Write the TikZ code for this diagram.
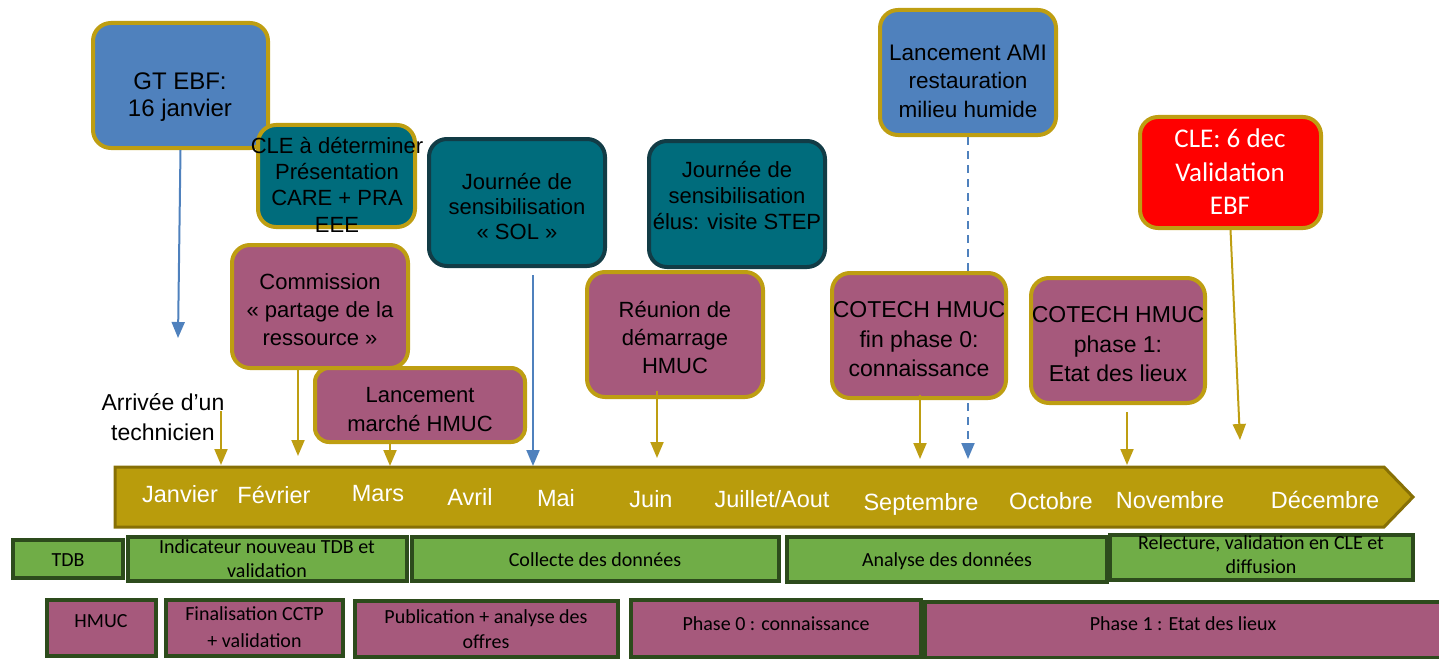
\documentclass[tikz,border=0pt]{standalone}
\usepackage{fontspec}
\setmainfont{Liberation Sans}
\newfontfamily\calib{Carlito}
\usetikzlibrary{arrows.meta,fit}
\definecolor{eblue}{RGB}{79,129,189}
\definecolor{egold}{RGB}{190,158,18}
\definecolor{tgold}{RGB}{185,156,12}
\definecolor{tgoldd}{RGB}{135,112,5}
\definecolor{eteal}{RGB}{0,108,124}
\definecolor{edteal}{RGB}{18,60,70}
\definecolor{emag}{RGB}{166,89,124}
\definecolor{egreen}{RGB}{112,173,71}
\definecolor{edgreen}{RGB}{45,75,28}
\definecolor{ered}{RGB}{255,0,0}
\newcommand\fs[2]{\fontsize{#1}{#2}\selectfont}
\begin{document}
\begin{tikzpicture}[x=1pt,y=-1pt,
 evbox/.style={draw=egold,line width=4pt,rounded corners=18pt,inner sep=0pt},
 tlbox/.style={draw=edteal,line width=4pt,rounded corners=18pt,fill=eteal,inner sep=0pt},
 bar/.style={draw=edgreen,line width=3.5pt,inner sep=0pt},
 evtxt/.style={align=center,font=\fs{22}{26.5},inner sep=0pt},
 mon/.style={anchor=base,text=white,font=\fs{23.5}{28},inner sep=0pt},
 bartxt/.style={align=center,font=\calib\fs{20}{24},inner sep=0pt},
 barbase/.style={anchor=base,font=\calib\fs{20}{24},inner sep=0pt},
 garrow/.style={draw=egold,line width=2pt,-{Triangle[width=13pt,length=16pt]}},
 barrow/.style={draw=eblue,line width=2pt,-{Triangle[width=13pt,length=16pt]}},
]
\useasboundingbox (0,0) rectangle (1439,658);

% timeline
\draw[fill=tgold,draw=tgoldd,line width=3pt] (115,467) -- (1384,467) -- (1413,497) -- (1384,527) -- (115,527) -- cycle;
\node[mon] (m1) at (180,502) {Janvier};
\node[mon] (m2) at (274,503) {Février};
\node[mon] (m3) at (378,501) {Mars};
\node[mon] (m4) at (470,505) {Avril};
\node[mon] (m5) at (556,506) {Mai};
\node[mon] (m6) at (651,507) {Juin};
\node[mon] (m7) at (772,507) {Juillet/Aout};
\node[mon] (m8) at (921,510) {Septembre};
\node[mon] (m9) at (1051,509) {Octobre};
\node[mon] (m10) at (1170,508) {Novembre};
\node[mon] (m11) at (1325,508) {Décembre};

% coordinates for arrow ends
\coordinate (tGT) at (178,338);
\coordinate (sA) at (221,411);
\coordinate (tA) at (221,465);
\coordinate (tB) at (298,456);
\coordinate (tC) at (390,466);
\coordinate (sD) at (533,275);
\coordinate (tD) at (533,466);
\coordinate (tE) at (657,458);
\coordinate (tF) at (920,459);
\coordinate (tG) at (968,459);
\coordinate (sI) at (1127,412);
\coordinate (tI) at (1127,465);
\coordinate (tJ) at (1240,440);

% top event boxes
\node[evbox,fill=eblue,fit={(93,23) (268,148)}] (gtebf) {};
\node[evtxt] (gtebft) at (180,97) {\fs{24}{29}GT EBF:\\\fs{24}{29}16 janvier};
\draw[barrow] (gtebf.south) -- (tGT);

\node[evbox,fill=eteal,fit={(258,125) (415,227)}] (cle) {};
\node[evtxt,font=\fs{22}{26.3}] (clet) at (337,184.5) {CLE à déterminer\\Présentation\\CARE + PRA\\EEE};

\node[tlbox,fit={(429,139) (605,266)}] (sol) {};
\node[evtxt,font=\fs{22}{25}] (solt) at (517,207) {Journée de\\sensibilisation\\« SOL »};
\node[tlbox,fit={(649,141) (825,267)}] (elus) {};
\node[evtxt,font=\fs{22}{26}] (elust) at (737,196) {Journée de\\sensibilisation\\élus: visite STEP};

\node[evbox,fill=eblue,fit={(880,10) (1056,135)}] (ami) {};
\node[evtxt,font=\fs{22.5}{28.5}] (amit) at (968,81) {Lancement AMI\\restauration\\milieu humide};
\draw[draw=eblue,line width=2pt,dash pattern=on 8pt off 6pt,-{Triangle[width=13pt,length=16pt]}] (ami.south) -- (tG);

\node[evbox,fill=ered,fit={(1140,117) (1321,228)}] (cle6) {};
\node[evtxt,text=white,font=\calib\fs{27}{33.5}] (cle6t) at (1230,172) {CLE: 6 dec\\Validation\\EBF};

% magenta event boxes
\node[evbox,fill=emag,fit={(232,245) (408,368)}] (comm) {};
\node[evtxt,font=\fs{22}{28}] (commt) at (320,310) {Commission\\« partage de la\\ressource »};
\node[evbox,fill=emag,rounded corners=14pt,fit={(315,368) (525,442)}] (marche) {};
\node[evtxt,font=\fs{22}{29}] (marchet) at (420,409.5) {Lancement\\marché HMUC};
\node[evbox,fill=emag,fit={(587,272) (763,397)}] (reunion) {};
\node[evtxt,font=\fs{22}{28}] (reuniont) at (675,338) {Réunion de\\démarrage\\HMUC};
\node[evbox,fill=emag,fit={(832,273) (1006,398)}] (cot0) {};
\node[evtxt,font=\fs{23}{29.5}] (cot0t) at (919,339.5) {COTECH HMUC\\fin phase 0:\\connaissance};
\node[evbox,fill=emag,fit={(1031,278) (1205,403)}] (cot1) {};
\node[evtxt,font=\fs{23}{29.5}] (cot1t) at (1118,344.5) {COTECH HMUC\\phase 1:\\Etat des lieux};

% arrows to timeline
\node[evtxt,font=\fs{23}{30}] (arr) at (163,417) {Arrivée d’un\\technicien};
\draw[garrow] (sA) -- (tA);
\draw[garrow] (comm.south -| tB) -- (tB);
\draw[garrow] (marche.south -| tC) -- (tC);
\draw[barrow] (sD) -- (tD);
\draw[garrow] ([yshift=8pt]reunion.south -| tE) -- (tE);
\draw[garrow] ([yshift=5pt]cot0.south -| tF) -- (tF);
\draw[garrow] (sI) -- (tI);
\draw[garrow] (cle6.south) -- (tJ);

% green bars
\node[bar,fill=egreen,fit={(13,540) (123,578)}] (tdb) {};
\node[barbase] (tdbt) at (68,566) {TDB};
\node[bar,fill=egreen,fit={(128,537) (407,581)}] (indic) {};
\node[bartxt] (indict) at (267,558.5) {Indicateur nouveau TDB et\\validation};
\node[bar,fill=egreen,fit={(412,537) (779,581)}] (coll) {};
\node[barbase] (collt) at (595,566) {Collecte des données};
\node[bar,fill=egreen,fit={(787,537) (1107,582)}] (anal) {};
\node[barbase] (analt) at (947,566) {Analyse des données};
\node[bar,fill=egreen,fit={(1110,535) (1413,580)}] (rel) {};
\node[bartxt] (relt) at (1261,555) {Relecture, validation en CLE et\\diffusion};

% magenta bars
\node[bar,fill=emag,fit={(47,600) (156,656)}] (hmuc) {};
\node[barbase] (hmuct) at (101,627) {HMUC};
\node[bar,fill=emag,fit={(166,600) (343,656)}] (fin) {};
\node[bartxt,font=\calib\fs{20}{27}] (fint) at (254.5,627) {Finalisation CCTP\\+ validation};
\node[bar,fill=emag,fit={(355,601) (618,657)}] (pub) {};
\node[bartxt,font=\calib\fs{20}{25}] (pubt) at (486,629) {Publication + analyse des\\offres};
\node[bar,fill=emag,fit={(631,600) (921,657)}] (ph0) {};
\node[barbase] (ph0t) at (776,630) {Phase 0 : connaissance};
\node[bar,fill=emag,fit={(925,602) (1445,658)}] (ph1) {};
\node[barbase] (ph1t) at (1183,630) {Phase 1 : Etat des lieux};
\end{tikzpicture}
\end{document}
